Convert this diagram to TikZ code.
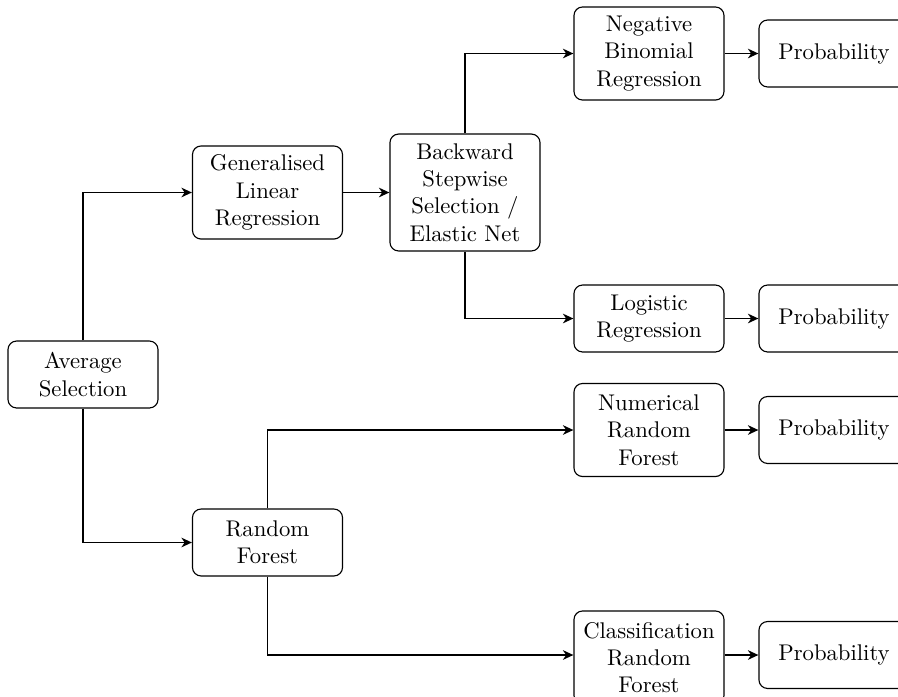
\documentclass[tikz,border=0pt]{standalone}
\usetikzlibrary{arrows.meta}
\begin{document}
\begin{tikzpicture}[x=0.4405pt,y=-0.4405pt,
  box/.style={draw, line width=0.5pt, rounded corners=3.8pt, align=center, text width=59.4pt,
    inner xsep=3.33pt, inner ysep=0pt, minimum width=66.1pt, minimum height=29.5pt},
  box3/.style={box, minimum height=41pt},
  box4/.style={box, minimum height=51.5pt},
  conn/.style={-{Stealth[length=4.6pt,width=4.2pt,inset=1.4pt]}, thick}]
\useasboundingbox (0,0) rectangle (898,696);
\node[box]  (avg) at (83,374.5) {Average\\Selection};
\node[box3] (glr) at (267.5,192.5) {Generalised\\Linear\\Regression};
\node[box]  (rf)  at (267.5,542.5) {Random\\Forest};
\node[box4] (bss) at (465,192.5) {Backward\\Stepwise\\Selection /\\Elastic Net};
\node[box3] (nbr) at (649,53.5) {Negative\\Binomial\\Regression};
\node[box]  (lr)  at (649,318.5) {Logistic\\Regression};
\node[box3] (nrf) at (649,430) {Numerical\\Random\\Forest};
\node[box3] (crf) at (649,657.5) {Classification\\Random\\Forest};
\node[box]  (p1)  at (834,53.5) {Probability};
\node[box]  (p2)  at (834,318.5) {Probability};
\node[box]  (p3)  at (834,430) {Probability};
\node[box]  (p4)  at (834,655) {Probability};
\draw[conn] (avg.north) |- (glr.west);
\draw[conn] (avg.south) |- (rf.west);
\draw[conn] (glr.east) -- (bss.west);
\draw[conn] (bss.north) |- (nbr.west);
\draw[conn] (bss.south) |- (lr.west);
\draw[conn] (rf.north) |- (nrf.west);
\draw[conn] (rf.south) |- (p4.west -| crf.west);
\draw[conn] (nbr.east) -- (p1.west);
\draw[conn] (lr.east) -- (p2.west);
\draw[conn] (nrf.east) -- (p3.west);
\draw[conn] (p4.west -| crf.east) -- (p4.west);
\end{tikzpicture}
\end{document}
